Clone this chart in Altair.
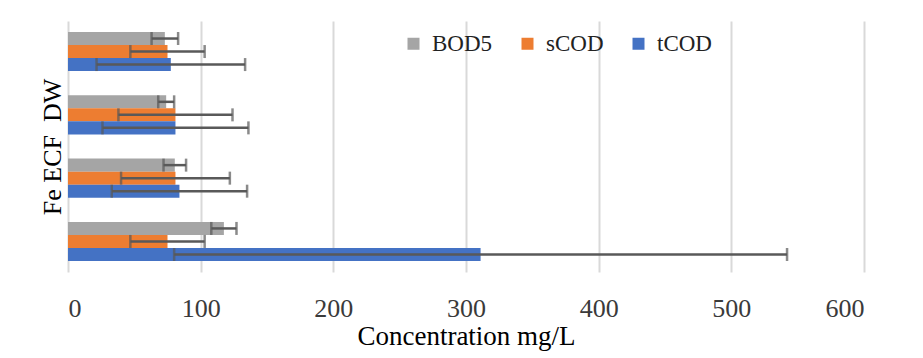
import altair as alt
import pandas as pd

groups = ["Group 1", "Group 2", "Group 3", "Group 4"]
series = ["BOD5", "sCOD", "tCOD"]
colors = ["#A5A5A5", "#ED7D31", "#4472C4"]

bod5 = [73, 74, 80.5, 117.5]
bod5_err = [10, 6, 8.5, 9.5]
scod = [75, 81, 81, 75]
scod_err = [28, 43, 41, 28]
tcod = [77.5, 81, 84, 311]
tcod_err = [56, 55, 51, 231]

x_ticks = [0, 100, 200, 300, 400, 500, 600]

rows = []
for s, vals, errs in [("BOD5", bod5, bod5_err), ("sCOD", scod, scod_err), ("tCOD", tcod, tcod_err)]:
    for g, v, e in zip(groups, vals, errs):
        rows.append({"group": g, "series": s, "value": v, "low": v - e, "high": v + e})
df = pd.DataFrame(rows)

FONT = "'Liberation Serif', 'Times New Roman', serif"

y_enc = alt.Y("group:N", sort=groups,
              scale=alt.Scale(paddingInner=0.383, paddingOuter=0.174),
              axis=alt.Axis(title="Fe ECF\u00a0\u00a0DW", labels=False, ticks=False, domain=False,
                            grid=False, titleFontSize=26, titlePadding=3))
yoff = alt.YOffset("series:N", sort=series, scale=alt.Scale(paddingInner=0, paddingOuter=0))

x_scale = alt.Scale(domain=[0, 600], nice=False)

bars = alt.Chart(df).mark_bar().encode(
    x=alt.X("value:Q", scale=x_scale,
            axis=alt.Axis(values=x_ticks, title="Concentration mg/L", grid=True,
                          domain=False, ticks=False, tickSize=0,
                          labelFont=FONT, labelFontSize=26, labelPadding=23,
                          titleFontSize=27, titlePadding=2)),
    y=y_enc,
    yOffset=yoff,
    color=alt.Color("series:N", sort=series,
                    scale=alt.Scale(domain=series, range=colors),
                    legend=alt.Legend(title=None, orient="none", direction="horizontal",
                                      legendX=334, legendY=11, padding=0,
                                      symbolType="square", symbolSize=144,
                                      symbolStrokeWidth=0, labelFont=FONT,
                                      labelFontSize=23,
                                      labelOffset=7, columnPadding=23)),
)

rules = alt.Chart(df).mark_rule(color="#595959", strokeWidth=2.5).encode(
    x="low:Q", x2="high:Q", y=alt.Y("group:N", sort=groups), yOffset=yoff,
)

caps_lo = alt.Chart(df).mark_tick(color="#595959", thickness=2.5, size=13, orient="vertical").encode(
    x="low:Q", y=alt.Y("group:N", sort=groups), yOffset=yoff,
)
caps_hi = alt.Chart(df).mark_tick(color="#595959", thickness=2.5, size=13, orient="vertical").encode(
    x="high:Q", y=alt.Y("group:N", sort=groups), yOffset=yoff,
)

chart = alt.layer(bars, rules, caps_lo, caps_hi).properties(
    width=796, height=251,
    autosize=alt.AutoSizeParams(type="none"),
    padding={"left": 60, "top": 13, "right": 50, "bottom": 86},
    background="#FFFFFF",
).configure(font=FONT).configure_view(stroke=None).configure_axis(
    labelFont=FONT, titleFont=FONT, labelColor="#3A3A3A", titleColor="#000000",
    titleFontWeight="normal", gridColor="#D9D9D9", gridWidth=2,
).configure_legend(
    labelFont=FONT, labelColor="#222222",
)

chart.save("out.html", embed_options={"renderer": "svg", "actions": False})
